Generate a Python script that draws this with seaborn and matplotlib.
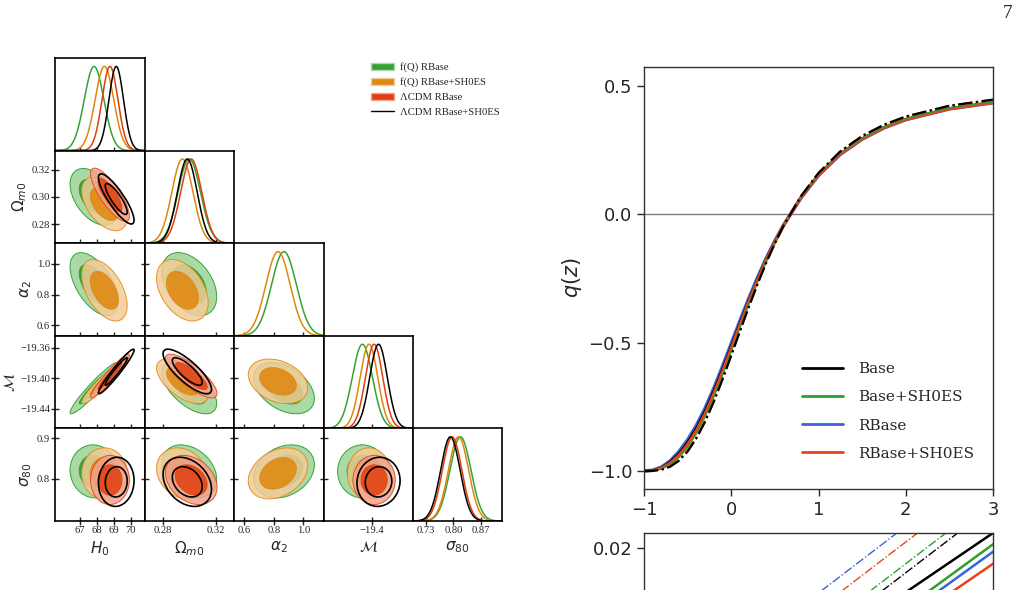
import numpy as np
import matplotlib.pyplot as plt
import seaborn as sns
from matplotlib.patches import Ellipse, Patch
from matplotlib.lines import Line2D

sns.set_style("ticks")
plt.rcParams['font.family'] = ['DejaVu Sans']
plt.rcParams['mathtext.fontset'] = 'dejavusans'

# ---------------- corner plot ----------------
param_labels = [r'$H_0$', r'$\Omega_{m0}$', r'$\alpha_2$', r'$\mathcal{M}$', r'$\sigma_{80}$']
param_limits = [(65.53, 70.82), (0.2661, 0.3339), (0.531, 1.135), (-19.466, -19.344), (0.6945, 0.925)]
x_ticks = [[67, 68, 69, 70], [0.28, 0.32], [0.6, 0.8, 1.0], [-19.4], [0.73, 0.80, 0.87]]
x_ticklabels = [['67', '68', '69', '70'], ['0.28', '0.32'], ['0.6', '0.8', '1.0'], ['\u221219.4'],
                ['0.73', '0.80', '0.87']]
y_ticks = [None, [0.28, 0.30, 0.32], [0.6, 0.8, 1.0], [-19.44, -19.40, -19.36], [0.8, 0.9]]
y_ticklabels = [None, ['0.28', '0.30', '0.32'], ['0.6', '0.8', '1.0'],
                ['\u221219.44', '\u221219.40', '\u221219.36'], ['0.8', '0.9']]

chain_names = ['f(Q) RBase', 'f(Q) RBase+SH0ES', '\u039bCDM RBase', '\u039bCDM RBase+SH0ES']
chain_dark = ['#36a236', '#e0870f', '#e0400f', 'black']
chain_light = ['#a9d9a4', '#f3cc98', '#f1a48e', None]
chain_alpha = [1.0, 0.85, 0.85, 1.0]

# means / sigmas: H0, Om0, alpha2, M, sigma80  (nan = parameter not in model)
fq_rbase_mean = [67.84, 0.3000, 0.868, -19.413, 0.818]
fq_rbase_std = [0.58, 0.0085, 0.084, 0.0138, 0.027]
fq_sh0es_mean = [68.45, 0.2948, 0.828, -19.404, 0.813]
fq_sh0es_std = [0.55, 0.0080, 0.082, 0.0120, 0.026]
lcdm_rbase_mean = [68.78, 0.3015, np.nan, -19.397, 0.7966]
lcdm_rbase_std = [0.47, 0.0080, np.nan, 0.0118, 0.025]
lcdm_sh0es_mean = [69.15, 0.2985, np.nan, -19.391, 0.792]
lcdm_sh0es_std = [0.43, 0.0075, np.nan, 0.0120, 0.025]

# correlations for the (row, col) panels below the diagonal
pairs = [(1, 0), (2, 0), (3, 0), (4, 0), (2, 1), (3, 1), (4, 1), (3, 2), (4, 2), (4, 3)]
fq_rbase_corr = [-0.45, -0.55, 0.95, -0.05, -0.40, -0.60, -0.30, -0.40, 0.25, 0.0]
fq_sh0es_corr = [-0.50, -0.50, 0.94, 0.0, -0.40, -0.60, -0.20, -0.30, 0.30, 0.0]
lcdm_rbase_corr = [-0.80, np.nan, 0.95, 0.0, np.nan, -0.80, -0.30, np.nan, np.nan, 0.0]
lcdm_sh0es_corr = [-0.85, np.nan, 0.96, 0.05, np.nan, -0.80, -0.30, np.nan, np.nan, 0.05]

means = [fq_rbase_mean, fq_sh0es_mean, lcdm_rbase_mean, lcdm_sh0es_mean]
stds = [fq_rbase_std, fq_sh0es_std, lcdm_rbase_std, lcdm_sh0es_std]
corrs = [fq_rbase_corr, fq_sh0es_corr, lcdm_rbase_corr, lcdm_sh0es_corr]

# ---------------- q(z) panel ----------------
z_grid = [-1.0, -0.9, -0.8, -0.7, -0.6, -0.5, -0.4, -0.3, -0.2, -0.1, 0.0, 0.1, 0.2, 0.3, 0.4,
          0.5, 0.6, 0.8, 1.0, 1.25, 1.5, 1.75, 2.0, 2.5, 3.0]
q_rbase = [-1.000, -0.997, -0.985, -0.961, -0.925, -0.879, -0.823, -0.756, -0.678, -0.593, -0.504,
           -0.415, -0.329, -0.248, -0.172, -0.104, -0.042, 0.065, 0.152, 0.234, 0.293, 0.337, 0.369,
           0.411, 0.435]
q_base = [-1.000, -0.997, -0.987, -0.965, -0.932, -0.888, -0.833, -0.766, -0.688, -0.603, -0.513,
          -0.423, -0.336, -0.253, -0.175, -0.106, -0.042, 0.066, 0.153, 0.235, 0.294, 0.338, 0.370,
          0.412, 0.436]
q_rbase_sh0es = [-1.000, -0.998, -0.989, -0.970, -0.939, -0.897, -0.843, -0.777, -0.699, -0.613, -0.522,
                 -0.431, -0.342, -0.258, -0.179, -0.108, -0.043, 0.066, 0.153, 0.235, 0.294, 0.337,
                 0.369, 0.411, 0.435]
q_base_sh0es = [-1.000, -0.998, -0.991, -0.975, -0.948, -0.908, -0.855, -0.790, -0.712, -0.626, -0.534,
                -0.441, -0.350, -0.264, -0.183, -0.110, -0.043, 0.067, 0.155, 0.238, 0.297, 0.341,
                0.373, 0.415, 0.439]
q_lcdm_base = [-1.000, -0.999, -0.995, -0.983, -0.960, -0.924, -0.873, -0.808, -0.730, -0.643, -0.550,
               -0.455, -0.362, -0.273, -0.189, -0.113, -0.044, 0.071, 0.161, 0.245, 0.305, 0.349,
               0.381, 0.423, 0.447]
q_lcdm_rbase_sh0es = [-1.000, -0.999, -0.994, -0.981, -0.957, -0.920, -0.869, -0.804, -0.726, -0.639,
                      -0.547, -0.452, -0.360, -0.271, -0.188, -0.112, -0.044, 0.071, 0.161, 0.245,
                      0.305, 0.349, 0.381, 0.423, 0.446]

# lower panel (only its top edge is visible)
z_low = [-1.0, 0.0, 1.0, 2.0, 3.0]
low_dd_rbase = [-0.0038, 0.0051, 0.0140, 0.0229, 0.0318]
low_dd_rbase_sh0es = [-0.0059, 0.0030, 0.0119, 0.0208, 0.0297]
low_dd_base_sh0es = [-0.0088, 0.0001, 0.0090, 0.0179, 0.0268]
low_dd_base = [-0.0100, -0.0011, 0.0078, 0.0167, 0.0256]
low_base = [-0.0096, -0.0017, 0.0062, 0.0141, 0.0220]
low_base_sh0es = [-0.0135, -0.0050, 0.0035, 0.0120, 0.0205]
low_rbase = [-0.0141, -0.0057, 0.0027, 0.0111, 0.0195]
low_rbase_sh0es = [-0.0141, -0.0061, 0.0019, 0.0099, 0.0179]

q_colors = {'Base': 'black', 'Base+SH0ES': '#2ca02c', 'RBase': '#3b62d8', 'RBase+SH0ES': '#e8441a'}

W, H = 1023, 590
fig = plt.figure(figsize=(W / 100, H / 100), dpi=100)


def px_axes(left, top, w, h):
    return fig.add_axes([left / W, 1 - (top + h) / H, w / W, h / H])


def draw_ellipse(ax, mx, my, sx, sy, r, k, **kw):
    cov = np.array([[sx * sx, r * sx * sy], [r * sx * sy, sy * sy]])
    vals, vecs = np.linalg.eigh(cov)
    angle = np.degrees(np.arctan2(vecs[1, 1], vecs[0, 1]))
    ax.add_patch(Ellipse((mx, my), 2 * k * np.sqrt(vals[1]), 2 * k * np.sqrt(vals[0]),
                         angle=angle, **kw))


col_left = [55, 144.5, 234, 323.5, 412.5]
row_top = [58, 150.6, 243.2, 335.8, 428.4]
cw, rh = 89.5, 92.6
k68, k95 = np.sqrt(2.279), np.sqrt(5.991)
n = len(param_labels)

for i in range(n):
    for j in range(i + 1):
        ax = px_axes(col_left[j], row_top[i], cw, rh)
        ax.set_xlim(param_limits[j])
        if i == j:
            # 1D marginals
            grid = np.linspace(param_limits[j][0], param_limits[j][1], 300)
            for c in range(4):
                m, s = means[c][j], stds[c][j]
                if np.isnan(m):
                    continue
                sns.lineplot(x=grid, y=np.exp(-0.5 * ((grid - m) / s) ** 2), ax=ax,
                             color=chain_dark[c], lw=1.1)
            ax.set_ylim(0, 1.1)
            ax.set_yticks([])
        else:
            p = pairs.index((i, j))
            for c in range(4):
                mx, my = means[c][j], means[c][i]
                r = corrs[c][p]
                if np.isnan(mx) or np.isnan(my) or np.isnan(r):
                    continue
                sx, sy = stds[c][j], stds[c][i]
                if chain_light[c] is None:
                    for k in (k95, k68):
                        draw_ellipse(ax, mx, my, sx, sy, r, k, fill=False,
                                     edgecolor='black', lw=1.2, zorder=5)
                else:
                    draw_ellipse(ax, mx, my, sx, sy, r, k95, facecolor=chain_light[c],
                                 edgecolor=chain_dark[c], lw=0.7, alpha=chain_alpha[c], zorder=2 + c)
                    draw_ellipse(ax, mx, my, sx, sy, r, k68, facecolor=chain_dark[c],
                                 edgecolor=chain_dark[c], lw=0.7, alpha=chain_alpha[c], zorder=2 + c)
            ax.set_ylim(param_limits[i])
            ax.set_yticks(y_ticks[i])
            if j == 0:
                ax.set_yticklabels(y_ticklabels[i])
                ax.set_ylabel(param_labels[i], fontsize=11, labelpad=2)
            else:
                ax.set_yticklabels([])
        ax.set_xticks(x_ticks[j])
        if i == n - 1:
            ax.set_xticklabels(x_ticklabels[j])
            ax.set_xlabel(param_labels[j], fontsize=11, labelpad=3)
        else:
            ax.set_xticklabels([])
        ax.tick_params(direction='inout', length=6, width=1, labelsize=7.7,
                       labelfontfamily='Liberation Serif', pad=0.5)
        for sp in ax.spines.values():
            sp.set_linewidth(1.2)
            sp.set_color('black')

corner_handles = [Patch(facecolor=chain_dark[c], edgecolor=chain_light[c]) for c in range(3)]
corner_handles.append(Line2D([], [], color='black', lw=1))
fig.legend(corner_handles, chain_names, loc='upper left', bbox_to_anchor=(366 / W, 1 - 57 / H),
           frameon=False, borderpad=0, handlelength=2.1, handleheight=0.7, handletextpad=0.55,
           labelspacing=0.48, prop={'family': 'Liberation Serif', 'size': 7.7})

# ---------------- q(z) ----------------
ax_q = px_axes(644, 67, 349, 422)
ax_q.axhline(0, color='gray', lw=1)
sns.lineplot(x=z_grid, y=q_rbase, ax=ax_q, color=q_colors['RBase'], lw=2.6)
sns.lineplot(x=z_grid, y=q_base, ax=ax_q, color=q_colors['Base'], lw=1.8)
sns.lineplot(x=z_grid, y=q_rbase_sh0es, ax=ax_q, color=q_colors['RBase+SH0ES'], lw=2.2)
sns.lineplot(x=z_grid, y=q_base_sh0es, ax=ax_q, color=q_colors['Base+SH0ES'], lw=1.0)
sns.lineplot(x=z_grid, y=q_lcdm_rbase_sh0es, ax=ax_q, color=q_colors['RBase+SH0ES'], lw=1.6,
             linestyle='-.')
sns.lineplot(x=z_grid, y=q_lcdm_base, ax=ax_q, color='black', lw=1.6, linestyle='-.')
ax_q.set_xlim(-1, 3)
ax_q.set_ylim(-1.07, 0.574)
ax_q.set_xticks([-1, 0, 1, 2, 3])
ax_q.set_yticks([-1.0, -0.5, 0.0, 0.5])
ax_q.tick_params(labelsize=13, width=1, length=5)
ax_q.set_ylabel(r'$q(z)$', fontsize=15, labelpad=3)
for sp in ax_q.spines.values():
    sp.set_color('#333333')
    sp.set_linewidth(1.0)
q_handles = [Line2D([], [], color=q_colors[k], lw=2) for k in q_colors]
ax_q.legend(q_handles, list(q_colors.keys()), loc='upper left', bbox_to_anchor=(0.453, 0.30),
            frameon=False, borderpad=0, borderaxespad=0, handlelength=2.7, handletextpad=1.0,
            labelspacing=0.92, prop={'family': 'DejaVu Serif', 'size': 11})

# ---------------- lower panel ----------------
ax_l = px_axes(644, 533, 349, 165)
sns.lineplot(x=z_low, y=low_dd_rbase, ax=ax_l, color=q_colors['RBase'], lw=1.0, linestyle='-.')
sns.lineplot(x=z_low, y=low_dd_rbase_sh0es, ax=ax_l, color=q_colors['RBase+SH0ES'], lw=1.0, linestyle='-.')
sns.lineplot(x=z_low, y=low_dd_base_sh0es, ax=ax_l, color=q_colors['Base+SH0ES'], lw=1.0, linestyle='-.')
sns.lineplot(x=z_low, y=low_dd_base, ax=ax_l, color='black', lw=1.0, linestyle='-.')
sns.lineplot(x=z_low, y=low_base, ax=ax_l, color='black', lw=1.8)
sns.lineplot(x=z_low, y=low_base_sh0es, ax=ax_l, color=q_colors['Base+SH0ES'], lw=1.8)
sns.lineplot(x=z_low, y=low_rbase, ax=ax_l, color=q_colors['RBase'], lw=1.8)
sns.lineplot(x=z_low, y=low_rbase_sh0es, ax=ax_l, color=q_colors['RBase+SH0ES'], lw=1.8)
ax_l.set_xlim(-1, 3)
ax_l.set_ylim(0.0, 0.022)
ax_l.set_yticks([0.02])
ax_l.set_yticklabels(['0.02'])
ax_l.set_xticks([])
ax_l.tick_params(labelsize=13, width=1, length=5)
for sp in ax_l.spines.values():
    sp.set_color('#333333')
    sp.set_linewidth(1.0)

fig.text(1008 / W, 1 - 13 / H, '7', ha='center', va='center', family='Liberation Serif', fontsize=14)

fig.savefig('out.png', dpi=100)
